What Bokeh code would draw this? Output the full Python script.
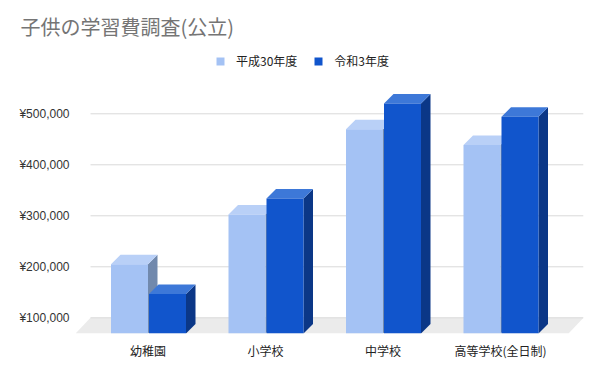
import numpy as np
from bokeh.plotting import figure
from bokeh.models import FixedTicker, Range1d, Legend, LegendItem
from bokeh.embed import file_html
from bokeh.resources import INLINE

# ---- data ----
title_text = "子供の学習費調査(公立)"
categories = ["幼稚園", "小学校", "中学校", "高等学校(全日制)"]
series_names = ["平成30年度", "令和3年度"]
h30 = [223647, 321281, 488397, 457380]
r3 = [165126, 352566, 538799, 512971]
y_ticks = [100000, 200000, 300000, 400000, 500000]
y_tick_labels = ["¥100,000", "¥200,000", "¥300,000", "¥400,000", "¥500,000"]

# ---- style / layout ----
W, H = 594, 364
BL, BR, BT, BB = 75, 11, 45, 31
frame_w = W - BL - BR
frame_h = H - BT - BB
px_x = 117.5            # px per category unit
px_y = 51.0 / 100000    # px per value unit
x_start = -72.5 / px_x
x_end = x_start + frame_w / px_x
y_start = y_ticks[0] - 15.7 / px_y
y_end = y_start + frame_h / px_y

floor_dx = 15 / px_x
bar_dx = 9.5 / px_x
bar_dy = 9.5 / px_y
bar_w = 37 / px_x
gap = 1 / px_x

light = dict(front="#a4c2f4", top="#b9d0f7", side="#7189ad")
dark = dict(front="#1155cc", top="#3d78d8", side="#0b3787")

p = figure(width=W, height=H, output_backend="svg", toolbar_location=None,
           x_range=Range1d(x_start, x_end), y_range=Range1d(y_start, y_end),
           min_border_left=BL, min_border_right=BR, min_border_top=BT, min_border_bottom=BB)
p.outline_line_color = None
p.xgrid.visible = False
p.ygrid.visible = False
p.background_fill_color = "white"
p.border_fill_color = "white"

# floor
p.patch([x_start + floor_dx, x_end, x_end - floor_dx, x_start],
        [y_ticks[0], y_ticks[0], y_start, y_start],
        fill_color="#ebebeb", line_color=None)
# gridlines
p.segment(x0=[x_start + floor_dx] * len(y_ticks), x1=[x_end] * len(y_ticks),
          y0=y_ticks, y1=y_ticks, line_color="#d9d9d9", line_width=1)

idx = np.arange(len(categories), dtype=float)

def bars(values, x0s, colors):
    v = np.asarray(values, dtype=float)
    x1s = x0s + bar_w
    ft = v - bar_dy
    side_xs = [[a, a, a + bar_dx, a + bar_dx] for a in x1s]
    side_ys = [[y_start, t, vv, y_start + bar_dy] for t, vv in zip(ft, v)]
    top_xs = [[a, b, b + bar_dx, a + bar_dx] for a, b in zip(x0s, x1s)]
    top_ys = [[t, t, vv, vv] for t, vv in zip(ft, v)]
    fr_xs = [[a, b, b, a] for a, b in zip(x0s, x1s)]
    fr_ys = [[y_start, y_start, t, t] for t in ft]
    p.patches(side_xs, side_ys, fill_color=colors["side"], line_color=None)
    p.patches(top_xs, top_ys, fill_color=colors["top"], line_color=None)
    return p.patches(fr_xs, fr_ys, fill_color=colors["front"], line_color=None)

r_light = bars(h30, idx - bar_w, light)
r_dark = bars(r3, idx + gap, dark)

# axes
p.xaxis.ticker = FixedTicker(ticks=list(idx))
p.xaxis.major_label_overrides = {float(i): c for i, c in zip(idx, categories)}
p.xaxis.major_label_overrides.update({int(i): c for i, c in zip(idx, categories)})
p.xaxis.axis_line_color = None
p.xaxis.major_tick_line_color = None
p.xaxis.minor_tick_line_color = None
p.xaxis.major_tick_out = 0
p.xaxis.major_label_standoff = 8
p.xaxis.major_label_text_font = "Noto Sans CJK JP"
p.xaxis.major_label_text_font_size = "12px"
p.xaxis.major_label_text_color = "#222222"

p.yaxis.ticker = FixedTicker(ticks=y_ticks)
p.yaxis.major_label_overrides = {t: l for t, l in zip(y_ticks, y_tick_labels)}
p.yaxis.axis_line_color = None
p.yaxis.major_tick_line_color = None
p.yaxis.minor_tick_line_color = None
p.yaxis.major_tick_out = 0
p.yaxis.major_label_standoff = 6
p.yaxis.major_label_text_font = "Liberation Sans"
p.yaxis.major_label_text_font_size = "12px"
p.yaxis.major_label_text_color = "#333333"

# title
p.title.text = title_text
p.title.text_font = "Noto Sans CJK JP"
p.title.text_font_size = "20px"
p.title.text_font_style = "normal"
p.title.text_color = "#757575"
p.title.align = "left"
p.title.offset = -55

# legend
legend = Legend(items=[LegendItem(label=series_names[0], renderers=[r_light]),
                       LegendItem(label=series_names[1], renderers=[r_dark])],
                orientation="horizontal", location=(140, 264),
                glyph_width=10, glyph_height=10, label_standoff=11, spacing=16,
                padding=0, margin=0, border_line_color=None, background_fill_alpha=0,
                label_text_font="Noto Sans CJK JP", label_text_font_size="12px",
                label_text_color="#222222", label_height=14)
p.add_layout(legend)

open("out.html", "w").write(file_html(p, INLINE))
